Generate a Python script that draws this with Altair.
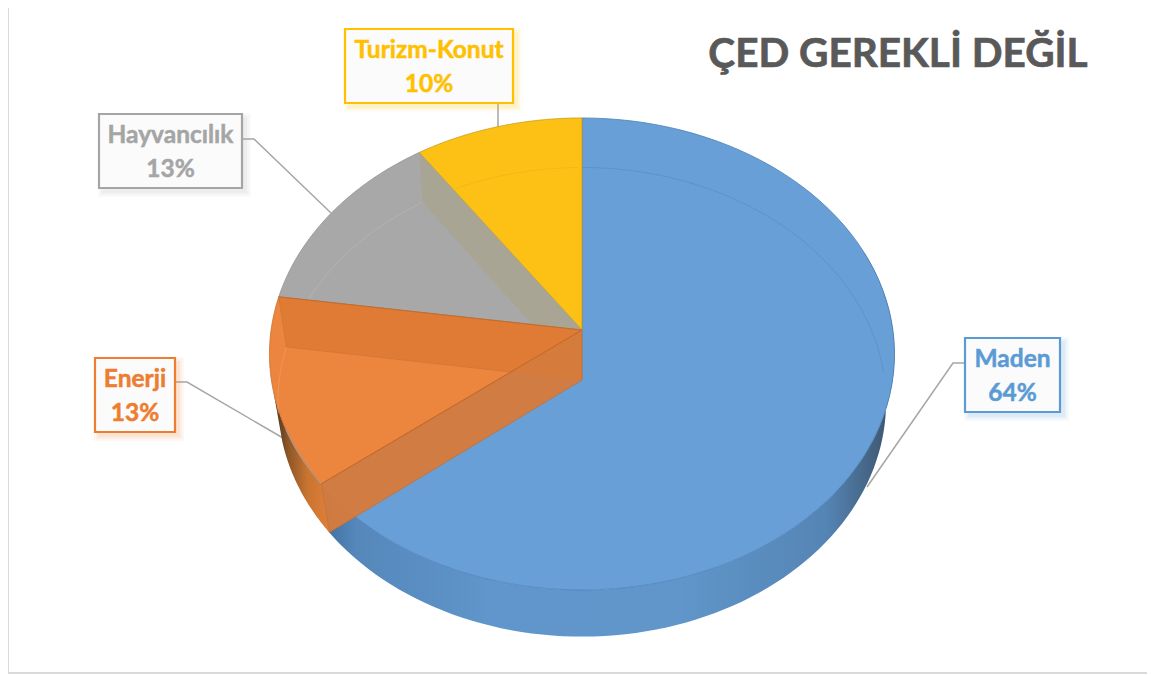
import math
import altair as alt
import pandas as pd

# ---------- data ----------
categories = ["Maden", "Enerji", "Hayvancılık", "Turizm-Konut"]
shares = [64.4, 12.9, 13.1, 9.6]
title_text = "ÇED GEREKLİ DEĞİL"

# ---------- styles and layout ----------
top_fill = ["#679FD6", "#EC853E", "#A8A8A8", "#FDC116"]
edge = ["#4A80B8", "#C96F2E", "#929292", "#C99A14"]
label_col = ["#5B9BD5", "#ED7D31", "#A5A5A5", "#FFC000"]
boxes = [(965, 338, 1060, 412), (95, 358, 175, 432), (99, 114, 242, 188), (345, 29, 513, 103)]
connectors = [
    [(965, 363), (953, 363), (867, 487)],
    [(175, 382), (187, 382), (283, 438)],
    [(242, 139), (254, 139), (331, 213)],
    [(498, 103), (498, 128)],
]
FONT = "Lato"
CX = 582
TOP = dict(cy=330, a=310.9, b=233.6, p=0.1017)
BOT = dict(cy=380, a=302.7, b=232.5, p=0.094)

X = alt.X("x:Q", scale=alt.Scale(domain=[8, 1147], nice=False, zero=False), axis=None)
Y = alt.Y("y:Q", scale=alt.Scale(domain=[8, 675], reverse=True, nice=False, zero=False), axis=None)


def pt(deg, f):
    """Perspective projection of a point on the pie's rim (degrees clockwise from 12 o'clock)."""
    t = math.radians(deg)
    u, v = math.sin(t), math.cos(t)
    d = 1 + f["p"] * v
    return (CX + f["a"] * u / d, f["cy"] - f["b"] * v / d)


def arc(d0, d1, f, n=90):
    return [pt(d0 + (d1 - d0) * i / n, f) for i in range(n + 1)]


def frame(points):
    return pd.DataFrame({"x": [p[0] for p in points], "y": [p[1] for p in points], "i": range(len(points))})


def poly(points, fill, stroke=None, sw=0.8, opacity=1.0):
    kw = dict(interpolate="linear-closed", fill=fill, fillOpacity=opacity)
    if stroke:
        kw.update(stroke=stroke, strokeWidth=sw)
    else:
        kw.update(strokeWidth=0, stroke="transparent")
    return alt.Chart(frame(points)).mark_line(**kw).encode(x=X, y=Y, order=alt.Order("i:Q"))


def path(points, color, sw=1.0, opacity=1.0):
    return alt.Chart(frame(points)).mark_line(color=color, strokeWidth=sw, opacity=opacity, strokeJoin="miter").encode(
        x=X, y=Y, order=alt.Order("i:Q"))


def grad(stops, x1=0.0, x2=1.0):
    return alt.Gradient(gradient="linear", x1=x1, x2=x2, y1=0, y2=0,
                        stops=[alt.GradientStop(offset=o, color=c) for o, c in stops])


def rect_layer(b, fill, stroke=None, sw=0, opacity=1.0):
    df = pd.DataFrame({"x": [b[0]], "x2": [b[2]], "y": [b[1]], "y2": [b[3]]})
    kw = dict(fill=fill, fillOpacity=opacity)
    if stroke:
        kw.update(stroke=stroke, strokeWidth=sw)
    return alt.Chart(df).mark_rect(**kw).encode(x=X, x2="x2:Q", y=Y, y2="y2:Q")


# slice boundaries, clockwise from 12 o'clock
bounds = [0.0]
for s in shares:
    bounds.append(bounds[-1] + s / sum(shares) * 360)
apex_t = (CX, TOP["cy"])
apex_b = (CX, BOT["cy"])

layers = []
# frame of the chart area
layers.append(rect_layer((8, -5, 1170, 673), "#FFFFFF", "#D9D9D9", 2))

# leader lines
for c in connectors:
    layers.append(path(c, "#A6A6A6", 1.5))

# outer side walls
wall_blue = arc(70, bounds[1], TOP) + arc(bounds[1], 70, BOT)
layers.append(poly(wall_blue,
                   grad([(0, "#3F6E9E"), (0.06, "#5587BA"), (0.3, "#6096CB"), (0.62, "#6096CA"),
                         (0.88, "#5585B5"), (0.97, "#425F7D"), (1, "#3A5069")])))
wall_orange = arc(bounds[1], 255, TOP) + arc(255, bounds[1], BOT)
layers.append(poly(wall_orange,
                   grad([(0, "#4A3018"), (0.25, "#8A5526"), (0.6, "#C87430"), (1, "#E07F38")])))

# top faces
for k in range(4):
    wedge = [apex_t] + arc(bounds[k], bounds[k + 1], TOP)
    layers.append(poly(wedge, top_fill[k], edge[k], 0.8))

# rim of the base seen through the translucent faces
layers.append(path(arc(0, 88, BOT), "#5A8FC4", 0.8))
layers.append(path(arc(bounds[4] - 1, bounds[3] + 2, BOT), "#EDB518", 0.8))
layers.append(path(arc(bounds[3], bounds[2] + 2, BOT), "#B4B4B4", 0.9))
layers.append(path(arc(bounds[2], 262, BOT), "#F09A5C", 0.9))

# inner walls seen through the faces
layers.append(poly([pt(bounds[3], TOP), apex_t, apex_b, pt(bounds[3], BOT)], "#A9A595"))
layers.append(poly([pt(bounds[2], TOP), apex_t, apex_b, pt(bounds[2], BOT)], "#E07B36", "#C9702F", 0.5))
layers.append(poly([pt(bounds[1], TOP), apex_t, apex_b, pt(bounds[1], BOT)], "#D47B3C", "#C46C2C", 0.6, 0.96))
layers.append(path([pt(bounds[2], TOP), apex_t, pt(bounds[1], TOP)], "#C46C2C", 1.0))
layers.append(path(arc(bounds[1], bounds[1] + 14, TOP, 20), "#8FA0B0", 1.0))

# label boxes with soft shadows and text
for k in range(4):
    b = boxes[k]
    for grow, alpha in ((5, 0.05), (3, 0.07), (1, 0.09)):
        layers.append(rect_layer((b[0] + 4 - grow, b[1] + 4 - grow, b[2] + 4 + grow, b[3] + 4 + grow), label_col[k], None, 0, alpha))
    layers.append(rect_layer(b, "#FBFBFB", label_col[k], 2.2))
    xm = (b[0] + b[2]) / 2
    lines = [categories[k], f"{round(shares[k])}%"]
    df = pd.DataFrame({"x": [xm, xm], "y": [b[1] + 22, b[1] + 56], "t": lines})
    layers.append(alt.Chart(df).mark_text(font=FONT, fontWeight="bold", fontSize=24.5, color=label_col[k],
                                          stroke=label_col[k], strokeWidth=0.5,
                                          align="center", baseline="middle").encode(x=X, y=Y, text="t:N"))

# title
layers.append(alt.Chart(pd.DataFrame({"x": [898], "y": [55], "t": [title_text]})).mark_text(
    font=FONT, fontWeight="bold", fontSize=40.5, color="#595959", stroke="#595959", strokeWidth=0.7,
    align="center", baseline="middle"
).encode(x=X, y=Y, text="t:N"))

chart = alt.layer(*layers).properties(
    width=1139, height=667, padding=0, autosize=alt.AutoSizeParams(type="none"),
    background="#FFFFFF", view=alt.ViewConfig(stroke=None)
).configure_view(stroke=None, clip=False)

chart.save("out.html", embed_options={"renderer": "svg", "actions": False})
